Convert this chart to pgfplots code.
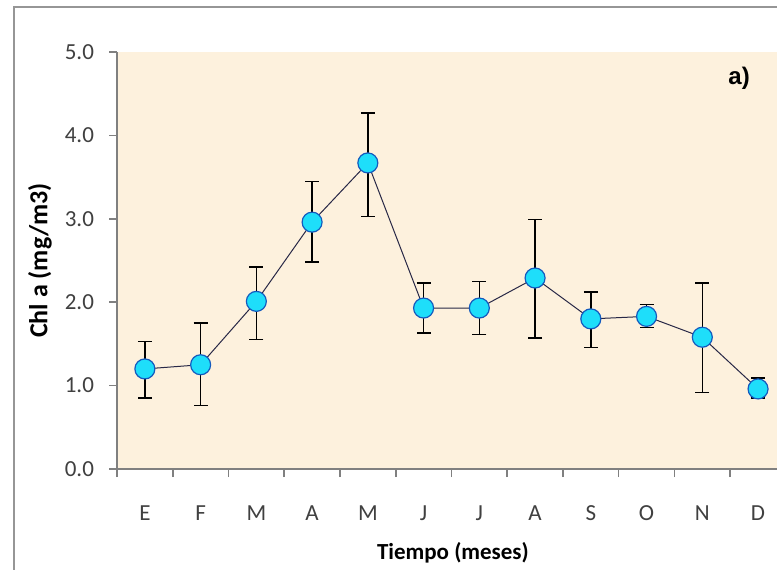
\documentclass[border=0pt]{standalone}
\usepackage{fontspec}
\setmainfont{Carlito}
\newfontfamily\arialfont{Liberation Sans}
\usepackage{pgfplots}
\pgfplotsset{compat=1.18}
\usepackage{pgfplotstable}
\definecolor{bgbeige}{RGB}{253,241,221}
\definecolor{mkfill}{RGB}{30,222,250}
\definecolor{mkdraw}{RGB}{20,90,190}
\definecolor{lncol}{RGB}{40,40,70}
\definecolor{frame}{RGB}{150,150,150}
\definecolor{axcol}{RGB}{128,128,128}
\pgfplotstableread{
x y ep em
0 1.20 0.33 0.35
1 1.25 0.50 0.49
2 2.01 0.41 0.46
3 2.96 0.49 0.48
4 3.67 0.60 0.64
5 1.93 0.30 0.30
6 1.93 0.32 0.32
7 2.29 0.70 0.72
8 1.80 0.32 0.34
9 1.83 0.14 0.13
10 1.58 0.65 0.66
11 0.96 0.13 0.11
}\datatable
\begin{document}
\begin{tikzpicture}
\clip (0,0) rectangle (388.5pt,284.5pt);
\fill[white] (0,0) rectangle (388.5pt,284.5pt);
\draw[frame, line width=1pt] (7pt,-20pt) -- (7pt,281pt) -- (400pt,281pt);
\begin{axis}[
  at={(58.5pt,50pt)}, anchor=south west,
  scale only axis, width=330pt, height=208.5pt,
  xmin=-0.5, xmax=11.34, ymin=0, ymax=5,
  axis x line*=bottom, axis y line*=left,
  axis line style={axcol, line width=0.8pt, -},
  axis background/.style={fill=bgbeige},
  tick align=outside, major tick length=4pt,
  tick style={axcol, line width=0.8pt},
  ytick={0,1,2,3,4,5},
  yticklabel style={/pgf/number format/fixed, /pgf/number format/precision=1, /pgf/number format/fixed zerofill},
  /pgf/number format/assume math mode=true,
  xtick={-0.5,0.5,...,10.5}, xticklabels={},
  extra x ticks={0,1,2,3,4,5,6,7,8,9,10,11},
  extra x tick labels={E,F,M,A,M,J,J,A,S,O,N,D},
  extra x tick style={major tick length=0pt, tick style={draw=none}},
  tick label style={font=\fontsize{11.5}{13}\selectfont, text=black!75},
  xticklabel style={yshift=-15pt},
  yticklabel style={xshift=-4pt},
  ylabel={Chl a (mg/m3)},
  ylabel style={font=\bfseries\fontsize{13}{15}\selectfont, at={(axis description cs:-0.1167,0.5)}, anchor=center, rotate=0},
  xlabel={Tiempo (meses)},
  xlabel style={font=\bfseries\fontsize{11.5}{13}\selectfont, at={(axis description cs:0.509,-0.2014)}, anchor=center},
]
\addplot[line width=0.5pt, color=lncol, mark=*, mark size=5pt,
  mark options={draw=mkdraw, fill=mkfill, line width=0.6pt},
  error bars/.cd, y dir=both, y explicit,
  error bar style={black, line width=0.7pt},
  error mark options={rotate=90, mark size=3.5pt, black, line width=0.7pt}]
  table[x=x, y=y, y error plus=ep, y error minus=em] {\datatable};
\node[font=\arialfont\bfseries\fontsize{12}{14}\selectfont] at (axis cs:10.66,4.68) {a)};
\end{axis}
\end{tikzpicture}
\end{document}
